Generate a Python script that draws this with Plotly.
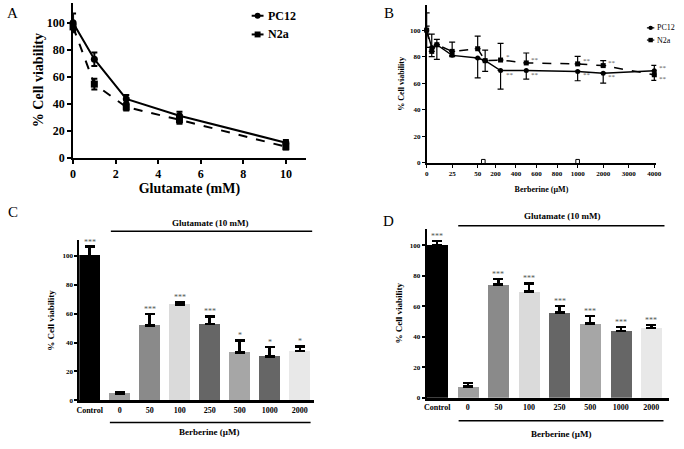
import plotly.graph_objects as go

W, H = 684, 449
def fx(x): return x / W
def fy(y): return 1 - y / H

FONT = "Liberation Serif"

# ---------------- Panel A data ----------------
glu_mM = [0, 1, 2.5, 5, 10]
pc12_a = [100, 73, 43.5, 31, 11]
pc12_a_err = [7, 5, 3, 3, 2]
n2a_a = [97, 54.5, 37.5, 28, 8]
n2a_a_err = [3, 4, 2.5, 3, 2]

# ---------------- Panel B data ----------------
ber_uM = [0, 5, 10, 25, 50, 100, 250, 500, 1000, 2000, 4000]
pc12_b = [100, 87, 89, 81, 79, 77, 69.6, 69.6, 68.9, 67.6, 69.4]
pc12_b_up = [13, 0, 0, 0, 0, 0, 0, 0, 0, 0, 4]
pc12_b_dn = [13, 7, 11, 1, 15, 8, 14, 6.5, 7, 7.5, 0]
pc12_b_sig = ["", "", "", "", "", "", "**", "**", "**", "**", "**"]
n2a_b = [100, 84, 89, 84, 86, 77, 77.5, 75.3, 74.6, 73.3, 66.4]
n2a_b_up = [3, 13, 4, 7, 9.5, 8, 12.5, 7.5, 5.7, 3.7, 0]
n2a_b_dn = [3, 0, 0, 0, 0, 0, 0, 0, 0, 0, 4.2]
n2a_b_sig = ["", "", "", "", "", "", "*", "**", "**", "**", "**"]
b_ticks = [0, 25, 50, 200, 400, 600, 800, 1000, 2000, 3000, 4000]
b_breaks = [82, 1000]

# broken-axis scale for panel B: (c0, p0, c1, p1) per segment
B_SEGS = [(0, 0, 50, 51.7), (200, 69.7, 1000, 153.0), (1000, 153.0, 4000, 230.7)]
B_LIMITS = [50, 1000, 4000]
def bpos(c):
    for (c0, p0, c1, p1), lim in zip(B_SEGS, B_LIMITS):
        if c <= lim:
            return p0 + (c - c0) * (p1 - p0) / (c1 - c0)
    c0, p0, c1, p1 = B_SEGS[-1]
    return p0 + (c - c0) * (p1 - p0) / (c1 - c0)

# ---------------- Panels C / D data ----------------
groups = ["Control", "0", "50", "100", "250", "500", "1000", "2000"]
bar_colors = ["#000000", "#9e9e9e", "#8a8a8a", "#dadada", "#666666", "#a6a6a6", "#666666", "#e8e8e8"]
c_vals = [100, 4.6, 51.8, 66.4, 52.8, 33, 30.2, 34.1]
c_err = [6.4, 1.1, 8, 1.8, 5.4, 8.6, 6.6, 3.2]
c_sig = ["***", "", "***", "***", "***", "*", "*", "*"]
d_vals = [100, 7.3, 74.2, 69.7, 55.9, 48.6, 43.7, 45.8]
d_err = [2.6, 2.4, 3.7, 5.3, 4.3, 5.1, 2.8, 1.7]
d_sig = ["***", "", "***", "***", "***", "***", "***", "***"]
idx = list(range(len(groups)))

fig = go.Figure()

# ---- A ----
fig.add_trace(go.Scatter(x=glu_mM, y=pc12_a, name="PC12", mode="lines+markers",
                         line=dict(color="black", width=2),
                         marker=dict(symbol="circle", size=7, color="black"),
                         error_y=dict(type="data", array=pc12_a_err, thickness=2, width=3, color="black"),
                         xaxis="x", yaxis="y", showlegend=False, cliponaxis=False))
fig.add_trace(go.Scatter(x=glu_mM, y=n2a_a, name="N2a", mode="lines+markers",
                         line=dict(color="black", width=2, dash="dash"),
                         marker=dict(symbol="square", size=7, color="black"),
                         error_y=dict(type="data", array=n2a_a_err, thickness=2, width=3, color="black"),
                         xaxis="x", yaxis="y", showlegend=False, cliponaxis=False))

# ---- B ----
bx = [bpos(c) for c in ber_uM]
fig.add_trace(go.Scatter(x=bx, y=pc12_b, name="PC12", mode="lines+markers",
                         line=dict(color="black", width=1.5),
                         marker=dict(symbol="circle", size=5, color="black"),
                         error_y=dict(type="data", symmetric=False, array=pc12_b_up, arrayminus=pc12_b_dn,
                                      thickness=1.2, width=3, color="black"),
                         xaxis="x2", yaxis="y2", showlegend=False, cliponaxis=False))
fig.add_trace(go.Scatter(x=bx, y=n2a_b, name="N2a", mode="lines+markers",
                         line=dict(color="black", width=1.5, dash="dash"),
                         marker=dict(symbol="square", size=5, color="black"),
                         error_y=dict(type="data", symmetric=False, array=n2a_b_up, arrayminus=n2a_b_dn,
                                      thickness=1.2, width=3, color="black"),
                         xaxis="x2", yaxis="y2", showlegend=False, cliponaxis=False))

# ---- C & D ----
for vals, errs, xa, ya in [(c_vals, c_err, "x3", "y3"), (d_vals, d_err, "x4", "y4")]:
    fig.add_trace(go.Bar(x=idx, y=vals, width=0.69, marker=dict(color=bar_colors, line=dict(width=0)),
                         error_y=dict(type="data", symmetric=False, array=errs, arrayminus=[0] * len(errs),
                                      thickness=2.5, width=5, color="black"),
                         xaxis=xa, yaxis=ya, showlegend=False))

annotations = []
shapes = []
# significance stars on bars
for vals, errs, sigs, xr, yr in [(c_vals, c_err, c_sig, "x3", "y3"), (d_vals, d_err, d_sig, "x4", "y4")]:
    for i, v, e, s in zip(idx, vals, errs, sigs):
        if s:
            annotations.append(dict(x=i, y=v + e, xref=xr, yref=yr, text=s, showarrow=False,
                                    yanchor="bottom", yshift=-2,
                                    font=dict(family=FONT, size=8, color="#555555")))
# stars in B (placed on the side away from the other series)
for c, p, n, sp, sn in zip(ber_uM, pc12_b, n2a_b, pc12_b_sig, n2a_b_sig):
    for v, s, other in [(p, sp, n), (n, sn, p)]:
        if s:
            annotations.append(dict(x=bpos(c), y=v, xref="x2", yref="y2", text=s, showarrow=False,
                                    xanchor="left", xshift=3, yshift=(3 if v >= other else -4),
                                    font=dict(family=FONT, size=7, color="#555555")))

# panel letters
for t, x, y in [("A", 10, 13), ("B", 391, 13), ("C", 10, 215), ("D", 391, 224)]:
    annotations.append(dict(x=fx(x), y=fy(y), xref="paper", yref="paper", text=t, showarrow=False,
                            xanchor="center", yanchor="middle",
                            font=dict(family=FONT, size=15, color="black")))

# group labels for C and D
for t, x, y in [("Glutamate (10 mM)", 210, 226.7), ("Berberine (µM)", 208.3, 439.3),
                ("Glutamate (10 mM)", 566, 219.3), ("Berberine (µM)", 565, 440.7)]:
    annotations.append(dict(x=fx(x), y=fy(y), xref="paper", yref="paper", text=t, showarrow=False,
                            xanchor="center", yanchor="middle",
                            font=dict(family=FONT, size=9, color="black", weight="bold")))
for x0, x1, y in [(109.3, 313.3, 235), (108.3, 311.7, 429.3), (461.3, 670.3, 229.3), (461.7, 669.3, 427.3)]:
    shapes.append(dict(type="line", xref="paper", yref="paper", x0=fx(x0), x1=fx(x1), y0=fy(y), y1=fy(y),
                       line=dict(color="black", width=1.5)))

# axis break marks in B
for c in b_breaks:
    shapes.append(dict(type="rect", xref="x2", yref="y2", xsizemode="pixel", ysizemode="pixel",
                       xanchor=bpos(c), yanchor=0, x0=-1.8, x1=1.8, y0=-3.5, y1=3.5,
                       fillcolor="white", line=dict(color="black", width=1)))

# compact legends (drawn as key lines + marker + label)
def legend_item(name, symbol, dash, xs0, xs1, y, msize, lw, tx, fsize, weight):
    shapes.append(dict(type="line", xref="paper", yref="paper", x0=fx(xs0), x1=fx(xs1), y0=fy(y), y1=fy(y),
                       line=dict(color="black", width=lw, dash=dash)))
    xc = (xs0 + xs1) / 2
    shapes.append(dict(type=("circle" if symbol == "circle" else "rect"), xref="paper", yref="paper",
                       x0=fx(xc - msize / 2), x1=fx(xc + msize / 2), y0=fy(y + msize / 2), y1=fy(y - msize / 2),
                       fillcolor="black", line=dict(color="black", width=0)))
    annotations.append(dict(x=fx(tx), y=fy(y), xref="paper", yref="paper", text=name, showarrow=False,
                            xanchor="left", yanchor="middle",
                            font=dict(family=FONT, size=fsize, color="black", weight=weight)))

legend_item("PC12", "circle", "solid", 252, 264, 16, 6, 2, 266.5, 12, "bold")
legend_item("N2a", "square", "solid", 252, 264, 35, 6, 2, 266.5, 12, "bold")
legend_item("PC12", "circle", "solid", 652.5, 660, 28.3, 4.5, 1.2, 661, 8, "normal")
legend_item("N2a", "square", "solid", 652.5, 660, 40.7, 4.5, 1.2, 661, 8, "normal")

def axis_style(size, lw=2, tl=4, tw=2):
    return dict(showline=True, linecolor="black", linewidth=lw, ticks="outside", ticklen=tl,
                tickwidth=tw, tickcolor="black", showgrid=False, zeroline=False,
                tickfont=dict(family=FONT, size=size, color="black", weight="bold"))

fig.update_layout(
    width=W, height=H, margin=dict(l=0, r=0, t=0, b=0),
    paper_bgcolor="white", plot_bgcolor="white",
    annotations=annotations, shapes=shapes, bargap=0, showlegend=False,
    # A
    xaxis=dict(domain=[fx(71), fx(306.7)], range=[0, 10.93], anchor="y", tickvals=[0, 2, 4, 6, 8, 10],
               title=dict(text="Glutamate (mM)", standoff=2,
                          font=dict(family=FONT, size=14, color="black", weight="bold")),
               **axis_style(12)),
    yaxis=dict(domain=[fy(160), fy(2.7)], range=[0, 115], anchor="x", tickvals=[0, 20, 40, 60, 80, 100],
               title=dict(text="% Cell viability", standoff=0,
                          font=dict(family=FONT, size=14, color="black", weight="bold")),
               **axis_style(12)),
    # B
    xaxis2=dict(domain=[fx(429.3), fx(662)], range=[0, 232.7], anchor="y2",
                tickvals=[bpos(c) for c in b_ticks], ticktext=[str(c) for c in b_ticks],
                title=dict(text="Berberine (µM)", standoff=9,
                           font=dict(family=FONT, size=8, color="black", weight="bold")),
                **axis_style(7, lw=1.5, tl=3, tw=1.2)),
    yaxis2=dict(domain=[fy(165.5), fy(5)], range=[0, 119], anchor="x2", tickvals=[0, 20, 40, 60, 80, 100],
                title=dict(text="% Cell viability", standoff=4,
                           font=dict(family=FONT, size=8, color="black", weight="bold")),
                **axis_style(7, lw=1.5, tl=3, tw=1.2)),
    # C
    xaxis3=dict(domain=[fx(77.3), fx(315)], range=[-0.345, 7.47], anchor="y3",
                tickvals=idx, ticktext=groups, **{**axis_style(8, lw=2.5), "ticks": ""}),
    yaxis3=dict(domain=[fy(406.7), fy(244.3)], range=[0, 110.7], anchor="x3", tickvals=[0, 20, 40, 60, 80, 100],
                title=dict(text="% Cell viability", standoff=6,
                           font=dict(family=FONT, size=9, color="black", weight="bold")),
                **axis_style(7, lw=2, tl=3, tw=1.5)),
    # D
    xaxis4=dict(domain=[fx(429.3), fx(675.3)], range=[-0.345, 7.59], anchor="y4",
                tickvals=idx, ticktext=groups, **{**axis_style(8, lw=2.5), "ticks": ""}),
    yaxis4=dict(domain=[fy(404), fy(232.3)], range=[0, 110.8], anchor="x4", tickvals=[0, 20, 40, 60, 80, 100],
                title=dict(text="% Cell viability", standoff=6,
                           font=dict(family=FONT, size=9, color="black", weight="bold")),
                **axis_style(7, lw=2, tl=3, tw=1.5)),
)

fig.write_html("out.html", config={"displayModeBar": False},
               post_script="document.body.style.margin='0';")
